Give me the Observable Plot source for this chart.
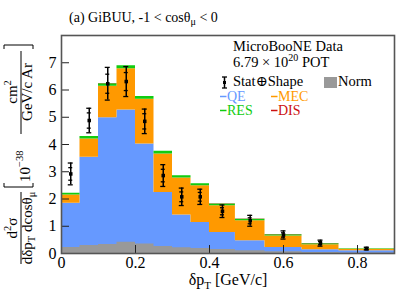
<!DOCTYPE html>
<html><head><meta charset="utf-8">
<script src="https://cdn.jsdelivr.net/npm/d3@7"></script>
<script src="https://cdn.jsdelivr.net/npm/@observablehq/plot@0.6"></script>
<style>
html,body{margin:0;padding:0;background:#fff;}
#chart{width:407px;height:295px;}
</style></head><body><div id="chart"></div>
<script>
// ---- data ----
const binEdges = [0, 0.05, 0.1, 0.15, 0.2, 0.25, 0.3, 0.35, 0.4, 0.47, 0.55, 0.65, 0.75, 0.9];
const qeVals  = [1.84, 3.53, 4.98, 5.27, 4.02, 2.24, 1.41, 1.14, 0.77, 0.47, 0.22, 0.14, 0.10];
const mecVals = [0.31, 0.67, 1.16, 1.51, 1.64, 1.41, 1.36, 1.35, 0.98, 0.73, 0.42, 0.18, 0.06];
const resVals = [0.06, 0.09, 0.09, 0.11, 0.10, 0.10, 0.08, 0.07, 0.07, 0.06, 0.05, 0.04, 0.01];
const disVals = [0.004, 0.004, 0.004, 0.004, 0.004, 0.004, 0.004, 0.004, 0.004, 0.004, 0.004, 0.004, 0.004];
const normVals = [0.22, 0.29, 0.33, 0.41, 0.35, 0.26, 0.21, 0.18, 0.15, 0.10, 0.06, 0.04, 0.02];
const dataVals = [2.92, 4.88, 6.23, 6.31, 4.85, 2.86, 2.08, 2.08, 1.55, 1.20, 0.68, 0.38, 0.18];
const totErr   = [0.40, 0.45, 0.60, 0.55, 0.45, 0.40, 0.32, 0.28, 0.23, 0.20, 0.15, 0.11, 0.05];
const statErr  = [0.23, 0.28, 0.35, 0.33, 0.28, 0.23, 0.18, 0.16, 0.13, 0.11, 0.08, 0.06, 0.03];
const components = ["QE", "MEC", "RES", "DIS"];
const xTicks = [0, 0.2, 0.4, 0.6, 0.8];
const yTicks = [0, 1, 2, 3, 4, 5, 6, 7];
const titleText = "(a) GiBUU, -1 < cosθ";
const legendHead = ["MicroBooNE Data", "6.79 × 10", "20", " POT"];

// ---- styles ----
const compColors = ["#6699ff", "#ff9900", "#11cc11", "#cc1111"];
const normColor = "#999999";
const FONT = "'Liberation Serif','DejaVu Serif',serif";

// ---- build tables ----
const compVals = [qeVals, mecVals, resVals, disVals];
const nb = binEdges.length - 1;
const areaRows = [];
const base = new Array(nb).fill(0);
components.forEach((c, k) => {
  const lo = base.slice();
  for (let i = 0; i < nb; i++) base[i] += compVals[k][i];
  const hi = base.slice();
  for (let i = 0; i <= nb; i++) {
    const j = Math.min(i, nb - 1);
    areaRows.push({comp: c, x: binEdges[i], y1: lo[j], y2: hi[j]});
  }
});
const normRows = binEdges.map((x, i) => ({x, y: normVals[Math.min(i, nb - 1)]}));
const points = dataVals.map((v, i) => ({
  x: (binEdges[i] + binEdges[i + 1]) / 2, v, e: totErr[i], s: statErr[i]
}));

const plot = Plot.plot({
  width: 407, height: 295,
  marginLeft: 61, marginRight: 13, marginTop: 35, marginBottom: 42,
  style: {fontFamily: FONT, fontSize: "16px", background: "white", color: "black"},
  x: {domain: [0, 0.9]},
  y: {domain: [0, 8]},
  color: {domain: components, range: compColors},
  marks: [
    Plot.areaY(areaRows, {x: "x", y1: "y1", y2: "y2", z: "comp", fill: "comp", curve: "step-after"}),
    Plot.areaY(normRows, {x: "x", y1: 0, y2: "y", fill: normColor, curve: "step-after"}),
    Plot.ruleX(xTicks, {x: d => d, y1: 0, y2: 0, insetBottom: 8, stroke: "#222", strokeWidth: 1}),
    Plot.ruleY(yTicks, {y: d => d, x1: 0, x2: 0, insetRight: -8, stroke: "#222", strokeWidth: 1}),
    Plot.axisX({ticks: xTicks, tickSize: 0, tickPadding: 3, label: null, fontSize: 16,
      tickFormat: d => d === 0 ? "0" : d3.format(".1f")(d)}),
    Plot.axisY({ticks: yTicks, tickSize: 0, tickPadding: 5, label: null, fontSize: 16}),
    Plot.ruleX(points, {x: "x", y1: d => d.v - d.e, y2: d => d.v + d.e, stroke: "black", strokeWidth: 1.5}),
    Plot.ruleY(points, {y: d => d.v + d.e, x1: "x", x2: "x", insetLeft: -2.5, insetRight: -2.5, stroke: "black", strokeWidth: 1.3}),
    Plot.ruleY(points, {y: d => d.v - d.e, x1: "x", x2: "x", insetLeft: -2.5, insetRight: -2.5, stroke: "black", strokeWidth: 1.3}),
    Plot.ruleY(points, {y: d => d.v + d.s, x1: "x", x2: "x", insetLeft: -2, insetRight: -2, stroke: "black", strokeWidth: 1.3}),
    Plot.ruleY(points, {y: d => d.v - d.s, x1: "x", x2: "x", insetLeft: -2, insetRight: -2, stroke: "black", strokeWidth: 1.3}),
    Plot.dot(points, {x: "x", y: "v", r: 2, fill: "black", symbol: "square"}),
    Plot.frame({stroke: "#555", strokeWidth: 1.6})
  ]
});
document.getElementById("chart").appendChild(plot);

const svg = d3.select(plot);
// title
const t = svg.append("text").attr("x", 69).attr("y", 22).attr("text-anchor", "start").attr("font-size", 14).attr("font-family", FONT).attr("fill", "black");
t.append("tspan").text(titleText);
t.append("tspan").attr("font-size", 10).attr("dy", 3).text("μ");
t.append("tspan").attr("dy", -3).text(" < 0");

// x label
const xl = svg.append("text").attr("x", 228).attr("y", 285).attr("text-anchor", "middle").attr("font-size", 16).attr("font-family", FONT);
xl.append("tspan").text("δp");
xl.append("tspan").attr("font-size", 11).attr("dy", 4).text("T");
xl.append("tspan").attr("dy", -4).text(" [GeV/c]");

// y label (rotated)
const yg = svg.append("g").attr("transform", "rotate(-90)").attr("font-family", FONT).attr("font-size", 15).attr("fill", "black");
// fraction 1
const n1 = yg.append("text").attr("x", -228).attr("y", 17).attr("text-anchor", "middle");
n1.append("tspan").text("d");
n1.append("tspan").attr("font-size", 10.5).attr("dy", -6).text("2");
n1.append("tspan").attr("dy", 6).text("σ");
yg.append("line").attr("x1", -264).attr("x2", -192).attr("y1", 21).attr("y2", 21).attr("stroke", "black").attr("stroke-width", 1);
const d1 = yg.append("text").attr("x", -228).attr("y", 32).attr("text-anchor", "middle");
d1.append("tspan").text("dδp");
d1.append("tspan").attr("font-size", 10.5).attr("dy", 3).text("T");
d1.append("tspan").attr("dy", -3).text(" dcosθ");
d1.append("tspan").attr("font-size", 10.5).attr("dy", 3).text("μ");
// 10^-38
const b1 = yg.append("text").attr("x", -182).attr("y", 30).attr("text-anchor", "start");
b1.append("tspan").text("10");
b1.append("tspan").attr("font-size", 10.5).attr("dy", -7).text("−38");
// fraction 2
const n2 = yg.append("text").attr("x", -92).attr("y", 17).attr("text-anchor", "middle");
n2.append("tspan").text("cm");
n2.append("tspan").attr("font-size", 10.5).attr("dy", -6).text("2");
yg.append("line").attr("x1", -134).attr("x2", -51).attr("y1", 21).attr("y2", 21).attr("stroke", "black").attr("stroke-width", 1);
yg.append("text").attr("x", -92).attr("y", 32).attr("text-anchor", "middle").text("GeV/c Ar");
// brackets
svg.append("path").attr("d", "M4,183 V187 H33 V183").attr("fill", "none").attr("stroke", "black").attr("stroke-width", 1);
svg.append("path").attr("d", "M4,49 V45 H33 V49").attr("fill", "none").attr("stroke", "black").attr("stroke-width", 1);

// legend
const lg = svg.append("g").attr("font-family", FONT).attr("font-size", 14.5).attr("fill", "black").attr("text-anchor", "start");
lg.append("text").attr("x", 233).attr("y", 50.5).text(legendHead[0]);
const l2 = lg.append("text").attr("x", 233).attr("y", 67);
l2.append("tspan").text(legendHead[1]);
l2.append("tspan").attr("font-size", 10).attr("dy", -6).text(legendHead[2]);
l2.append("tspan").attr("dy", 6).text(legendHead[3]);
// stat marker
lg.append("line").attr("x1", 224.5).attr("x2", 224.5).attr("y1", 77).attr("y2", 88).attr("stroke", "black").attr("stroke-width", 1.5);
lg.append("line").attr("x1", 222).attr("x2", 227).attr("y1", 77).attr("y2", 77).attr("stroke", "black").attr("stroke-width", 1.3);
lg.append("line").attr("x1", 222).attr("x2", 227).attr("y1", 88).attr("y2", 88).attr("stroke", "black").attr("stroke-width", 1.3);
lg.append("rect").attr("x", 223).attr("y", 81).attr("width", 3).attr("height", 3).attr("fill", "black");
lg.append("text").attr("x", 233).attr("y", 86).text("Stat⊕Shape");
lg.append("rect").attr("x", 324).attr("y", 77).attr("width", 13).attr("height", 11).attr("fill", normColor);
lg.append("text").attr("x", 338).attr("y", 86).text("Norm");
const legPos = [[220, 101], [271, 101], [220, 115], [271, 115]];
components.forEach((c, k) => {
  const [lx, ly] = legPos[k];
  lg.append("line").attr("x1", lx).attr("x2", lx + 6.5).attr("y1", ly - 4.5).attr("y2", ly - 4.5).attr("stroke", compColors[k]).attr("stroke-width", 1.5);
  lg.append("text").attr("x", lx + 7).attr("y", ly).attr("font-size", 14).attr("fill", compColors[k]).text(c);
});
</script></body></html>
